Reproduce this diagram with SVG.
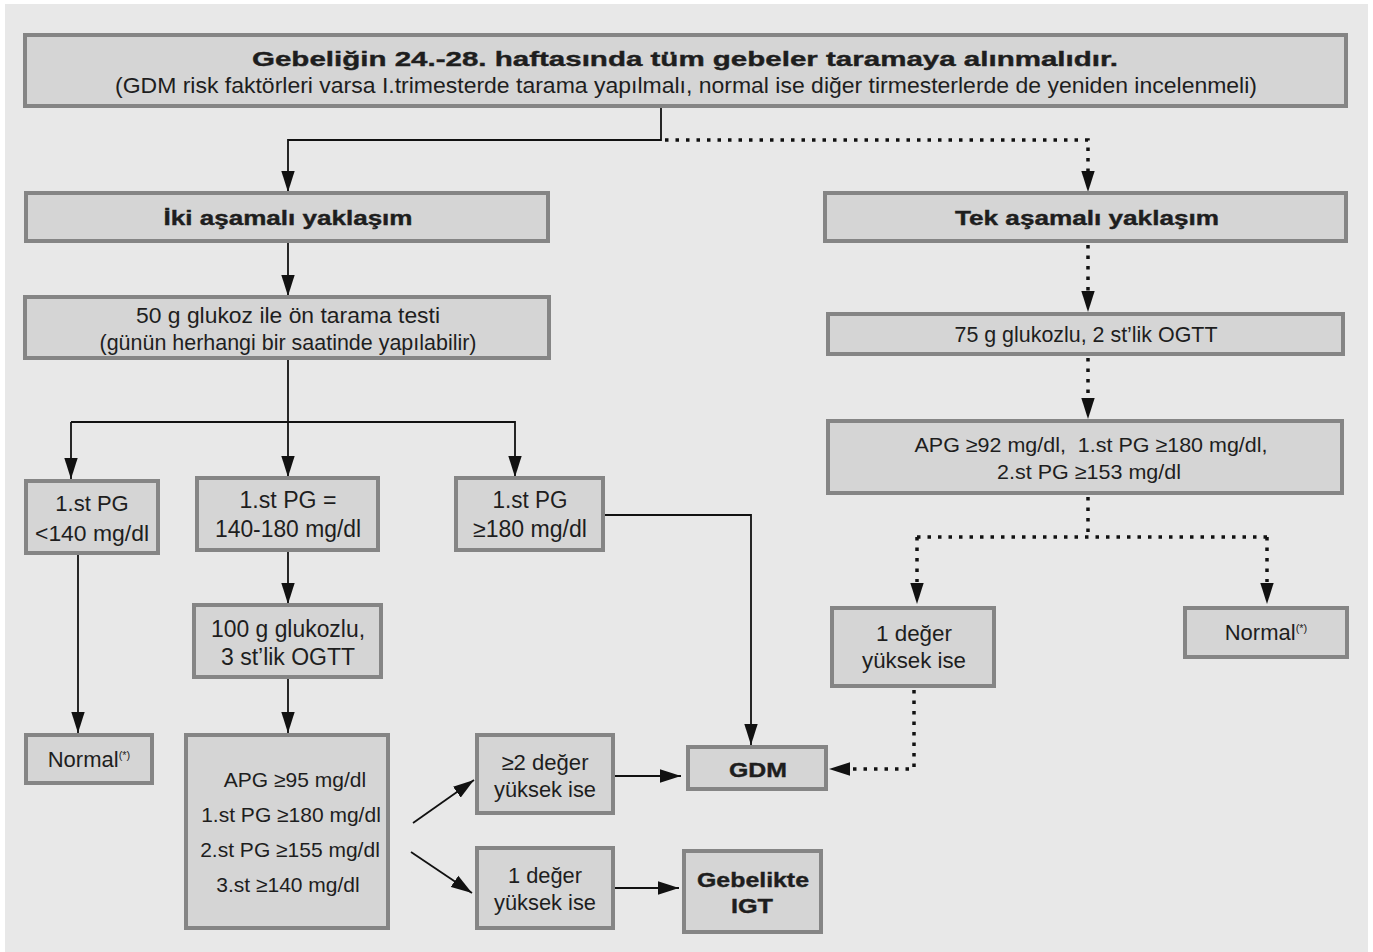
<svg xmlns="http://www.w3.org/2000/svg" width="1373" height="952" viewBox="0 0 1373 952">
<defs>
<marker id="ah" viewBox="0 0 22 14" refX="22" refY="7" markerWidth="21" markerHeight="14" markerUnits="userSpaceOnUse" orient="auto">
<path d="M0,0 L22,7 L0,14 Z" fill="#111"/>
</marker>
<style>
.box{fill:#d5d5d5;stroke:#858585;stroke-width:4}
.t{font-family:"Liberation Sans Narrow","Liberation Sans",Arial,sans-serif;font-size:22px;fill:#1e1e1e;text-anchor:middle}
.t23{font-size:23px}
.t21{font-size:21px}
.b{font-family:"Liberation Sans",Arial,sans-serif;font-weight:bold;font-size:21px;fill:#1e1e1e;stroke:#1e1e1e;stroke-width:0.4;text-anchor:middle}
.s{fill:none;stroke:#111;stroke-width:1.8}
.d{fill:none;stroke:#111;stroke-width:3.5;stroke-dasharray:3.5 7}
.h{fill:none;stroke:none}
.sup{font-size:11px}
</style>
</defs>
<rect x="0" y="0" width="1373" height="952" fill="#ffffff"/>
<rect x="5" y="4" width="1363" height="948" fill="#e8e8e8"/>

<g id="connectors">
<path class="s" d="M661,106 V140 H288 V192" marker-end="url(#ah)"/>
<path class="d" d="M665,140 H1088 V178"/>
<path class="h" d="M1088,170 V192" marker-end="url(#ah)"/>
<path class="s" d="M288,241 V296" marker-end="url(#ah)"/>
<path class="s" d="M288,358 V477" marker-end="url(#ah)"/>
<path class="s" d="M71,422 H515 V477" marker-end="url(#ah)"/>
<path class="s" d="M71,422 V479" marker-end="url(#ah)"/>
<path class="s" d="M603,515 H751 V745" marker-end="url(#ah)"/>
<path class="s" d="M78,553 V733" marker-end="url(#ah)"/>
<path class="s" d="M288,550 V604" marker-end="url(#ah)"/>
<path class="s" d="M288,677 V733" marker-end="url(#ah)"/>
<path class="s" d="M413,823 L474,780" marker-end="url(#ah)"/>
<path class="s" d="M411,852 L472,893" marker-end="url(#ah)"/>
<path class="s" d="M613,776 H681" marker-end="url(#ah)"/>
<path class="s" d="M613,888 H679" marker-end="url(#ah)"/>
<path class="d" d="M1088,245 V292"/>
<path class="h" d="M1088,290 V312" marker-end="url(#ah)"/>
<path class="d" d="M1088,358 V398"/>
<path class="h" d="M1088,396 V419" marker-end="url(#ah)"/>
<path class="d" d="M1088,497 V537"/>
<path class="d" d="M917,537 H1267"/>
<path class="d" d="M917,537 V582"/>
<path class="d" d="M1267,537 V582"/>
<path class="h" d="M917,580 V604" marker-end="url(#ah)"/>
<path class="h" d="M1267,580 V604" marker-end="url(#ah)"/>
<path class="d" d="M914,690 V769 H852"/>
<path class="h" d="M850,769 H829" marker-end="url(#ah)"/>
</g>

<g id="n-top">
<rect class="box" x="25" y="35" width="1321" height="71"/>
<text class="b" x="685" y="66" font-size="26" textLength="866" lengthAdjust="spacingAndGlyphs">Gebeliğin 24.-28. haftasında tüm gebeler taramaya alınmalıdır.</text>
<text class="t" x="686" y="93" textLength="1142" lengthAdjust="spacingAndGlyphs">(GDM risk faktörleri varsa I.trimesterde tarama yapılmalı, normal ise diğer tirmesterlerde de yeniden incelenmeli)</text>
</g>

<g id="n-iki">
<rect class="box" x="26" y="193" width="522" height="48"/>
<text class="b" x="288" y="225" textLength="249" lengthAdjust="spacingAndGlyphs">İki aşamalı yaklaşım</text>
</g>

<g id="n-tek">
<rect class="box" x="825" y="193" width="521" height="48"/>
<text class="b" x="1087" y="225" textLength="264" lengthAdjust="spacingAndGlyphs">Tek aşamalı yaklaşım</text>
</g>

<g id="n-50g">
<rect class="box" x="25" y="297" width="524" height="61"/>
<text class="t" x="288" y="323" textLength="304" lengthAdjust="spacingAndGlyphs">50 g glukoz ile ön tarama testi</text>
<text class="t" x="288" y="350" textLength="377" lengthAdjust="spacingAndGlyphs">(günün herhangi bir saatinde yapılabilir)</text>
</g>

<g id="n-lt140">
<rect class="box" x="26" y="481" width="132" height="72"/>
<text class="t" x="92" y="511">1.st PG</text>
<text class="t" x="92" y="541" textLength="114" lengthAdjust="spacingAndGlyphs">&lt;140 mg/dl</text>
</g>

<g id="n-140-180">
<rect class="box" x="197" y="478" width="181" height="72"/>
<text class="t t23" x="288" y="508" textLength="97" lengthAdjust="spacingAndGlyphs">1.st PG =</text>
<text class="t t23" x="288" y="537" textLength="146" lengthAdjust="spacingAndGlyphs">140-180 mg/dl</text>
</g>

<g id="n-ge180">
<rect class="box" x="456" y="478" width="147" height="72"/>
<text class="t t23" x="530" y="508" textLength="75" lengthAdjust="spacingAndGlyphs">1.st PG</text>
<text class="t t23" x="530" y="537" textLength="114" lengthAdjust="spacingAndGlyphs">≥180 mg/dl</text>
</g>

<g id="n-100g">
<rect class="box" x="194" y="605" width="187" height="72"/>
<text class="t t23" x="288" y="637" textLength="154" lengthAdjust="spacingAndGlyphs">100 g glukozlu,</text>
<text class="t t23" x="288" y="665" textLength="134" lengthAdjust="spacingAndGlyphs">3 st’lik OGTT</text>
</g>

<g id="n-normal-left">
<rect class="box" x="26" y="735" width="126" height="48"/>
<text class="t" x="89" y="767">Normal<tspan class="sup" dy="-8">(*)</tspan></text>
</g>

<g id="n-apg100">
<rect class="box" x="186" y="735" width="202" height="193"/>
<text class="t t21" x="295" y="787">APG ≥95 mg/dl</text>
<text class="t t21" x="291" y="822">1.st PG ≥180 mg/dl</text>
<text class="t t21" x="290" y="857">2.st PG ≥155 mg/dl</text>
<text class="t t21" x="288" y="892">3.st ≥140 mg/dl</text>
</g>

<g id="n-2deger">
<rect class="box" x="477" y="735" width="136" height="78"/>
<text class="t" x="545" y="770" textLength="87" lengthAdjust="spacingAndGlyphs">≥2 değer</text>
<text class="t" x="545" y="797" textLength="102" lengthAdjust="spacingAndGlyphs">yüksek ise</text>
</g>

<g id="n-1deger-left">
<rect class="box" x="477" y="848" width="136" height="80"/>
<text class="t" x="545" y="883" textLength="74" lengthAdjust="spacingAndGlyphs">1 değer</text>
<text class="t" x="545" y="910" textLength="102" lengthAdjust="spacingAndGlyphs">yüksek ise</text>
</g>

<g id="n-gdm">
<rect class="box" x="688" y="747" width="138" height="42"/>
<text class="b" x="758" y="777" textLength="58" lengthAdjust="spacingAndGlyphs">GDM</text>
</g>

<g id="n-igt">
<rect class="box" x="684" y="851" width="137" height="81"/>
<text class="b" x="753" y="887" textLength="112" lengthAdjust="spacingAndGlyphs">Gebelikte</text>
<text class="b" x="752" y="913" textLength="42" lengthAdjust="spacingAndGlyphs">IGT</text>
</g>

<g id="n-75g">
<rect class="box" x="828" y="314" width="515" height="40"/>
<text class="t" x="1086" y="342" textLength="263" lengthAdjust="spacingAndGlyphs">75 g glukozlu, 2 st’lik OGTT</text>
</g>

<g id="n-apg75">
<rect class="box" x="828" y="421" width="514" height="72"/>
<text class="t t21" x="1091" y="452" textLength="353" lengthAdjust="spacingAndGlyphs" xml:space="preserve">APG ≥92 mg/dl,  1.st PG ≥180 mg/dl,</text>
<text class="t t21" x="1089" y="479" textLength="184" lengthAdjust="spacingAndGlyphs">2.st PG ≥153 mg/dl</text>
</g>

<g id="n-1deger-right">
<rect class="box" x="832" y="608" width="162" height="78"/>
<text class="t" x="914" y="641" textLength="76" lengthAdjust="spacingAndGlyphs">1 değer</text>
<text class="t" x="914" y="668" textLength="104" lengthAdjust="spacingAndGlyphs">yüksek ise</text>
</g>

<g id="n-normal-right">
<rect class="box" x="1185" y="608" width="162" height="49"/>
<text class="t" x="1266" y="640">Normal<tspan class="sup" dy="-8">(*)</tspan></text>
</g>
</svg>
